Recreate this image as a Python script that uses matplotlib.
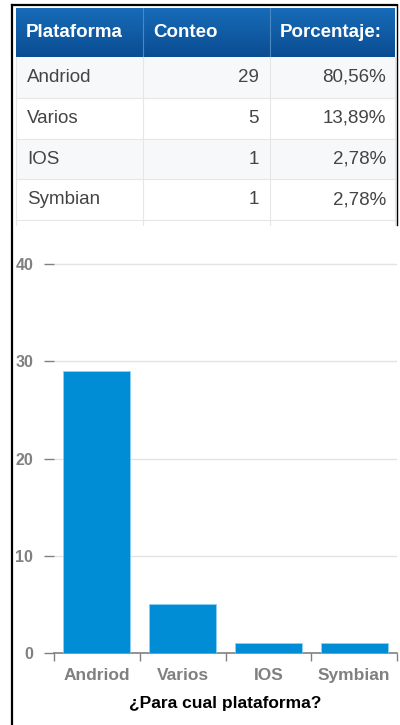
import matplotlib.pyplot as plt
import numpy as np
from matplotlib.patches import Rectangle

plataformas = ["Andriod", "Varios", "IOS", "Symbian"]
conteo = [29, 5, 1, 1]
porcentaje = ["80,56%", "13,89%", "2,78%", "2,78%"]
columnas = ["Plataforma", "Conteo", "Porcentaje:"]
yticks = [0, 10, 20, 30, 40]

plt.rcParams['font.family'] = ['Liberation Sans', 'DejaVu Sans']

W, H = 400, 725
fig = plt.figure(figsize=(W / 100, H / 100), dpi=100)

# background axes in pixel coordinates (for the table and frame)
bg = fig.add_axes([0, 0, 1, 1])
bg.set_xlim(0, W)
bg.set_ylim(H, 0)
bg.axis("off")

# table header with gradient
grad = np.linspace(0, 1, 50).reshape(-1, 1)
top_c = np.array([0x17, 0x6b, 0xb8]) / 255
bot_c = np.array([0x0b, 0x4d, 0x92]) / 255
img = top_c + (bot_c - top_c) * grad[..., None]
bg.imshow(img, extent=[16, 395, 57, 8], aspect="auto", zorder=1)
for x in [143, 270]:
    bg.plot([x, x], [8, 57], color="#4a88c4", lw=0.8, zorder=2)

col_x = [16, 143, 270, 395]
for i, c in enumerate(columnas):
    bg.text(col_x[i] + 10, 32, c, color="white", fontsize=13.5, fontweight="bold",
            va="center", ha="left", zorder=3)

# table body
row_h = 40.8
y0 = 57
for i in range(len(plataformas)):
    yt = y0 + i * row_h
    bg.add_patch(Rectangle((16, yt), 379, row_h,
                           facecolor="#f6f8fa" if i % 2 == 0 else "white",
                           edgecolor="none", zorder=1))
    bg.plot([16, 395], [yt + row_h, yt + row_h], color="#e4e6e8", lw=0.8, zorder=2)
    yc = yt + row_h / 2
    bg.text(27, yc, plataformas[i], color="#444444", fontsize=13.5, va="center", ha="left", zorder=3)
    bg.text(259, yc, str(conteo[i]), color="#444444", fontsize=13.5, va="center", ha="right", zorder=3)
    bg.text(386, yc, porcentaje[i], color="#444444", fontsize=13.5, va="center", ha="right", zorder=3)
y_end = y0 + len(plataformas) * row_h + 5
for x in [16, 143, 270, 395]:
    bg.plot([x, x], [57, y_end], color="#e4e6e8", lw=0.8, zorder=2)

# black frame
bg.plot([12, 12], [5, H], color="black", lw=1.6, zorder=4)
bg.plot([12, 397], [5, 5], color="black", lw=1.6, zorder=4)
bg.plot([397, 397], [5, y_end], color="black", lw=1.0, zorder=4)

# bar chart
left, right = 54, 397
base = 653
px_per_unit = 9.72
ymax = 42
top = base - ymax * px_per_unit
ax = fig.add_axes([left / W, (H - base) / H, (right - left) / W, (base - top) / H])
ax.set_facecolor("none")
x = np.arange(len(plataformas))
ax.bar(x, conteo, width=0.78, color="#008dd6", edgecolor="#8fd0f0", linewidth=0.6, zorder=3)
ax.set_xlim(-0.5, len(plataformas) - 0.5)
ax.set_ylim(0, ymax)
ax.set_yticks(yticks)
ax.set_yticklabels([str(t) for t in yticks], color="#808080", fontsize=11.5, fontweight="bold")
ax.set_xticks(x)
ax.set_xticklabels(plataformas, color="#808080", fontsize=12.5, fontweight="bold")
ax.set_xticks(np.arange(-0.5, len(plataformas), 1), minor=True)
ax.tick_params(axis="x", which="major", length=0, pad=11)
ax.tick_params(axis="x", which="minor", length=6, color="#808080", width=1)
ax.tick_params(axis="y", length=7, color="#808080", width=1, pad=8)
for t in yticks[1:]:
    ax.axhline(t, color="#e3e3e3", lw=1, zorder=1)
for s in ["top", "right", "left"]:
    ax.spines[s].set_visible(False)
ax.spines["bottom"].set_color("#808080")
ax.spines["bottom"].set_linewidth(1.2)
ax.set_xlabel("¿Para cual plataforma?", fontsize=12.5, fontweight="bold", color="black", labelpad=9)

fig.savefig("out.png", dpi=100)
